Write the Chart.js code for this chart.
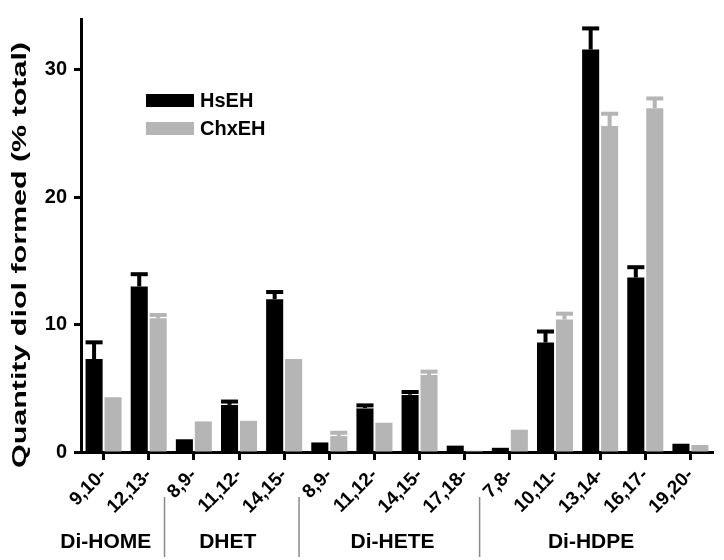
<!DOCTYPE html>
<html><head><meta charset="utf-8">
<script src="https://cdn.jsdelivr.net/npm/chart.js@4/dist/chart.umd.min.js"></script>
<style>html,body{margin:0;padding:0;background:#fff}#wrap{width:724px;height:560px}</style>
</head><body><div id="wrap"><canvas id="c" width="724" height="560"></canvas></div>
<script>
const categories = ['9,10-','12,13-','8,9-','11,12-','14,15-','8,9-','11,12-','14,15-','17,18-','7,8-','10,11-','13,14-','16,17-','19,20-'];
const groupNames = ['Di-HOME','DHET','Di-HETE','Di-HDPE'];
const seriesNames = ['HsEH','ChxEH'];
const hsehValues = [7.3,13.0,1.0,3.7,12.0,0.75,3.45,4.5,0.5,0.33,8.6,31.6,13.7,0.65];
const hsehErrors = [1.35,1.0,0,0.3,0.6,0,0.25,0.25,0,0,0.9,1.7,0.85,0];
const chxehValues = [4.3,10.5,2.4,2.45,7.3,1.25,2.3,6.05,0.1,1.75,10.4,25.6,27.0,0.55];
const chxehErrors = [0,0.3,0,0,0,0.3,0,0.3,0,0,0.5,1.0,0.8,0];
const yTicks = [0,10,20,30];
const yTitle = 'Quantity diol formed (% total)';

const FONT = "'Liberation Sans', Arial, Helvetica, sans-serif";
const BLACK = '#000000';
const GRAY = '#b5b5b5';

const errorBars = {
  id: 'errorBars',
  afterDatasetsDraw(chart) {
    const ctx = chart.ctx;
    const ys = chart.scales.y;
    chart.data.datasets.forEach((ds, i) => {
      const meta = chart.getDatasetMeta(i);
      meta.data.forEach((el, j) => {
        const err = ds.errors[j];
        if (!err) return;
        const yTop = ys.getPixelForValue(ds.data[j] + err);
        ctx.save();
        ctx.fillStyle = '#fff';
        ctx.fillRect(el.x - el.width / 2, yTop - 2.5, el.width, 6);
        ctx.fillStyle = ds.backgroundColor;
        ctx.fillRect(el.x - 2, yTop, 4, el.y - yTop);
        ctx.fillRect(el.x - el.width / 2, yTop - 1.5, el.width, 4);
        ctx.restore();
      });
    });
  }
};

const decorations = {
  id: 'decorations',
  afterDraw(chart) {
    const ctx = chart.ctx;
    const xs = chart.scales.x;
    const px = (f) => {
      const i = Math.floor(f), r = f - i;
      const a = xs.getPixelForValue(i), b = xs.getPixelForValue(i + 1);
      return a + (b - a) * r;
    };
    ctx.save();
    // legend
    chart.data.datasets.forEach((ds, i) => {
      const y = 94 + i * 28;
      ctx.fillStyle = ds.backgroundColor;
      ctx.fillRect(146, y, 48, 13);
      ctx.fillStyle = '#000';
      ctx.font = 'bold 20px ' + FONT;
      ctx.textAlign = 'left';
      ctx.textBaseline = 'middle';
      ctx.fillText(ds.label, 200, y + 7.5);
    });
    // y title
    ctx.save();
    ctx.translate(20, 255);
    ctx.rotate(-Math.PI / 2);
    ctx.font = 'bold 21px ' + FONT;
    const w = ctx.measureText(yTitle).width;
    ctx.scale(426 / w, 1);
    ctx.textAlign = 'center';
    ctx.textBaseline = 'middle';
    ctx.fillStyle = '#000';
    ctx.fillText(yTitle, 0, 0);
    ctx.restore();
    // group separators
    ctx.strokeStyle = '#8a8a8a';
    ctx.lineWidth = 1.5;
    [1.35, 4.33, 8.33].forEach(f => {
      const x = px(f);
      ctx.beginPath();
      ctx.moveTo(x, 497);
      ctx.lineTo(x, 557);
      ctx.stroke();
    });
    // group labels
    ctx.fillStyle = '#000';
    ctx.font = 'bold 21px ' + FONT;
    ctx.textAlign = 'center';
    ctx.textBaseline = 'alphabetic';
    [0.05, 2.75, 6.4, 10.8].forEach((f, i) => {
      ctx.fillText(groupNames[i], px(f), 548);
    });
    ctx.restore();
  }
};

new Chart(document.getElementById('c'), {
  type: 'bar',
  data: {
    labels: categories,
    datasets: [
      { label: seriesNames[0], data: hsehValues, errors: hsehErrors, backgroundColor: BLACK,
        categoryPercentage: 0.84, barPercentage: 0.9 },
      { label: seriesNames[1], data: chxehValues, errors: chxehErrors, backgroundColor: GRAY,
        categoryPercentage: 0.84, barPercentage: 0.9 }
    ]
  },
  options: {
    responsive: false,
    animation: false,
    devicePixelRatio: 1,
    layout: { padding: { left: 0, right: 11, top: 10, bottom: 0 } },
    plugins: { legend: { display: false }, tooltip: { enabled: false } },
    scales: {
      x: {
        offset: true,
        grid: { display: true, drawOnChartArea: false, drawTicks: true, tickLength: 8, tickWidth: 3, tickColor: '#000', offset: false },
        border: { display: true, color: '#000', width: 3 },
        ticks: { color: '#000', font: { family: FONT, size: 19, weight: 'bold' }, minRotation: 45, maxRotation: 45, autoSkip: false, padding: 4 },
        afterFit(scale) { scale.height = 108; }
      },
      y: {
        min: 0, max: 34,
        grid: { display: true, drawOnChartArea: false, drawTicks: true, tickLength: 7, tickWidth: 3, tickColor: '#000' },
        border: { display: true, color: '#000', width: 3 },
        ticks: { color: '#000', font: { family: FONT, size: 20, weight: 'bold' }, padding: 7 },
        afterBuildTicks(scale) { scale.ticks = yTicks.map(v => ({ value: v })); },
        afterFit(scale) { scale.width = 81; }
      }
    }
  },
  plugins: [errorBars, decorations]
});
</script>
</body></html>
